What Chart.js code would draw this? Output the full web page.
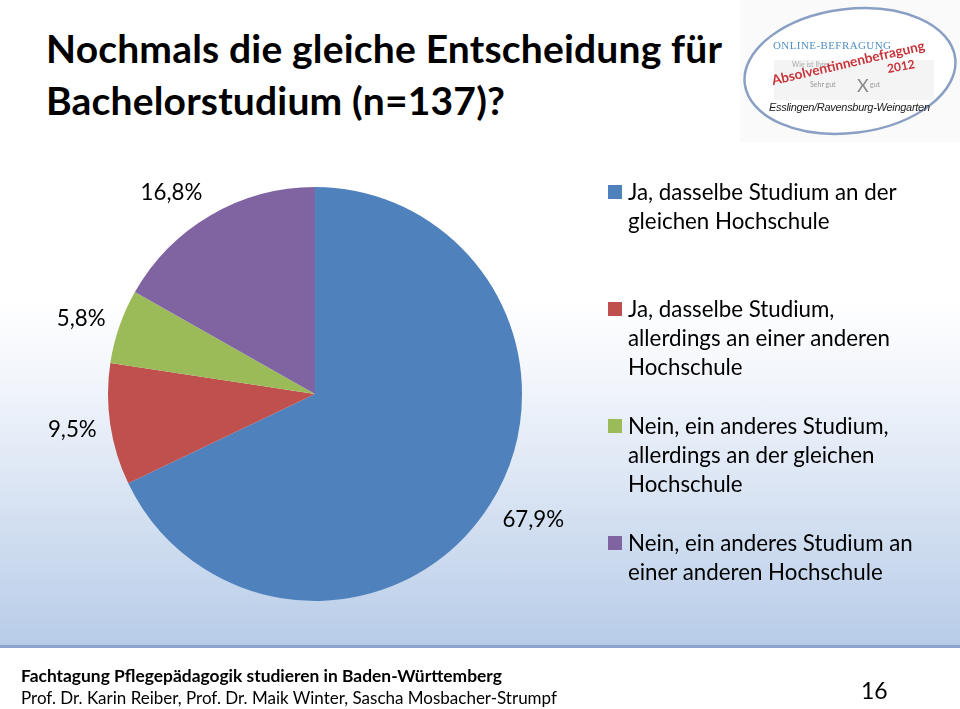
<!DOCTYPE html>
<html lang="de">
<head>
<meta charset="utf-8">
<title>Nochmals die gleiche Entscheidung</title>
<script src="https://cdn.jsdelivr.net/npm/chart.js@4"></script>
<style>
  html, body { margin: 0; padding: 0; background: #fff; }
  body { position: relative; width: 960px; height: 709px; overflow: hidden; font-family: Lato, "Open Sans", sans-serif; color: #000; }
  .bg { position: absolute; left: 0; top: 0; width: 960px; height: 645px; background: linear-gradient(#fff 0, #fff 300px, #f1f5fb 385px, #b8cce8 645px); }
  .rule { position: absolute; left: 0; top: 645px; width: 960px; height: 3px; background: #8ba3cf; }
  canvas { position: absolute; left: 0; top: 0; }
  h1 { position: absolute; left: 46px; top: 22px; margin: 0; font-size: 39px; line-height: 52px; font-weight: 700; letter-spacing: 0.18px; white-space: nowrap; }
  .legend div { position: absolute; left: 628px; font-size: 22.3px; line-height: 29px; white-space: pre; }
  .legend i { position: absolute; left: 608px; width: 14px; height: 14px; }
  .foot { position: absolute; left: 21px; white-space: nowrap; }
  .page { position: absolute; left: 861px; top: 676px; font-size: 23px; }
  svg.logo { position: absolute; left: 740px; top: 0; filter: blur(0.6px); }
</style>
</head>
<body>
<div class="bg"></div>
<div class="rule"></div>
<h1>Nochmals die gleiche Entscheidung für<br>Bachelorstudium (n=137)?</h1>
<svg class="logo" width="220" height="142" viewBox="0 0 220 142">
  <rect width="220" height="142" fill="#fafafa"/>
  <ellipse cx="110" cy="71" rx="106" ry="62" transform="rotate(-7 110 71)" fill="#ffffff" stroke="#8a9fc4" stroke-width="2.5"/>
  <rect x="34" y="60" width="160" height="40" fill="#f4f4f4"/>
  <text x="33" y="49" textLength="118" font-family="Liberation Serif" font-size="11" fill="#4f8fc4">ONLINE-BEFRAGUNG</text>
  <text x="52" y="67" font-family="Lato" font-size="7" fill="#aaa">Wie ist Ihre</text>
  <text x="70" y="87" font-family="Lato" font-size="7" fill="#999">Sehr gut</text>
  <text x="117" y="92" font-family="Lato" font-size="18" fill="#888">X</text>
  <text x="130" y="87" font-family="Lato" font-size="7" fill="#999">gut</text>
  <text x="33" y="85" font-family="Lato" font-size="13.6" font-weight="700" fill="#c8333a" transform="rotate(-13 33 85)">Absolventinnenbefragung</text>
  <text x="148" y="73" font-family="Lato" font-size="12" font-weight="700" fill="#c8333a" transform="rotate(-10 148 73)">2012</text>
  <text x="29" y="111" textLength="161" font-family="Liberation Sans" font-size="11" font-style="italic" fill="#222">Esslingen/Ravensburg-Weingarten</text>
</svg>
<canvas id="pieChart" width="960" height="709"></canvas>
<div class="legend" id="legend"></div>
<div class="foot" style="top:665px;font-size:17.4px;font-weight:700">Fachtagung Pflegepädagogik studieren in Baden-Württemberg</div>
<div class="foot" style="top:687px;font-size:17px">Prof. Dr. Karin Reiber, Prof. Dr. Maik Winter, Sascha Mosbacher-Strumpf</div>
<div class="page">16</div>
<script>
// Data
const categories = [
  'Ja, dasselbe Studium an der\ngleichen Hochschule',
  'Ja, dasselbe Studium,\nallerdings an einer anderen\nHochschule',
  'Nein, ein anderes Studium,\nallerdings an der gleichen\nHochschule',
  'Nein, ein anderes Studium an\neiner anderen Hochschule'
];
const values = [67.9, 9.5, 5.8, 16.8];
const colors = ['#4f81bd', '#c0504d', '#9bbb59', '#8064a2'];
const legendTops = [177, 294, 411, 528];
// hand placed nudges for the percent labels
const labelNudge = [[9, -6], [2, -1], [0, 6], [-19, 13]];

const byId = (id) => document.getElementById(id);
const pct = (v) => v.toFixed(1).replace('.', ',') + '%';

// percent labels sit just outside the slices
const outsideLabels = {
  id: 'outsideLabels',
  afterDatasetsDraw(chart) {
    const ctx = chart.ctx;
    ctx.save();
    ctx.font = '22.3px Lato, sans-serif';
    ctx.fillStyle = '#000';
    ctx.textAlign = 'center';
    ctx.textBaseline = 'middle';
    chart.getDatasetMeta(0).data.forEach((arc, i) => {
      const mid = (arc.startAngle + arc.endAngle) / 2;
      const r = arc.outerRadius * 1.195;
      ctx.fillText(pct(values[i]), arc.x + Math.cos(mid) * r + labelNudge[i][0], arc.y + Math.sin(mid) * r + labelNudge[i][1]);
    });
    ctx.restore();
  }
};

new Chart(byId('pieChart').getContext('2d'), {
  type: 'pie',
  data: { labels: categories, datasets: [{
    data: values,
    backgroundColor: colors,
    borderWidth: 0
  }]},
  options: {
    responsive: false,
    animation: false,
    layout: { padding: { left: 108, right: 438, top: 187, bottom: 108 } },
    plugins: { legend: { display: false }, tooltip: { enabled: false } }
  },
  plugins: [outsideLabels]
});

// legend on the right
categories.forEach((label, i) => {
  const box = document.createElement('i');
  box.style.top = (legendTops[i] + 8) + 'px';
  box.style.background = colors[i];
  const text = document.createElement('div');
  text.style.top = legendTops[i] + 'px';
  text.textContent = label;
  byId('legend').append(box, text);
});
</script>
</body>
</html>
